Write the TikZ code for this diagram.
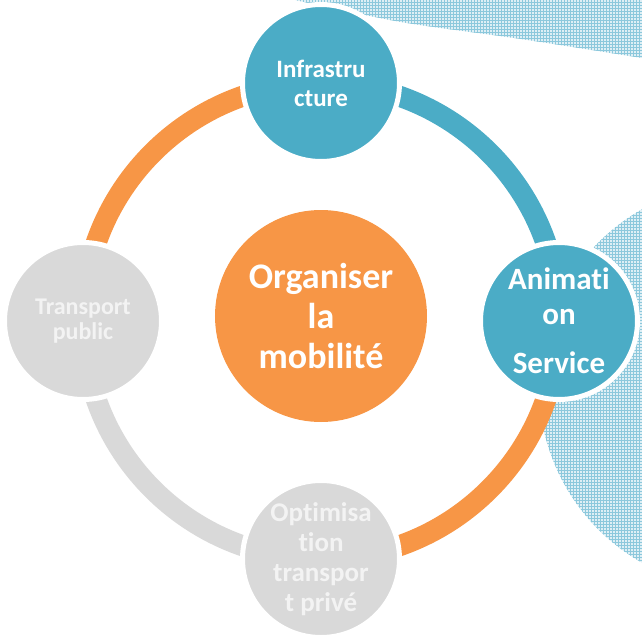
\documentclass[tikz,border=0pt]{standalone}
\usepackage{fontspec}
\setmainfont{Carlito}[Ligatures={NoCommon,NoContextual}]
\usepackage{tikz}
\usetikzlibrary{calc,positioning,patterns}
\definecolor{accblue}{RGB}{75,172,198}
\definecolor{accorange}{RGB}{247,150,70}
\definecolor{accgray}{RGB}{217,217,217}
\definecolor{palegray}{RGB}{243,243,243}
\definecolor{hatchbg}{RGB}{222,239,245}
\definecolor{hatchline}{RGB}{140,200,220}
\tikzstyle{hatch}   = [preaction={fill=hatchbg}, pattern=grid, pattern color=hatchline]
\tikzstyle{ringarc} = [line width=21pt]
\tikzstyle{hub}     = [circle, fill=accorange, minimum size=212pt, inner sep=0pt, text=white, align=center, font=\bfseries\fontsize{36}{40}\selectfont]
\tikzstyle{spoke}   = [circle, draw=white, line width=5pt, minimum size=157pt, inner sep=0pt, text=white, align=center]

\begin{document}
\begin{tikzpicture}[x=1pt,y=1pt]
        \useasboundingbox (-321,-314) rectangle (321,321);
        \clip (-321,-314) rectangle (321,321);

        \path[hatch] plot[smooth] coordinates {(-26,321) (80,299) (200,282) (321,263)} -- (330,261) -- (330,330) -- (-35,330) -- cycle;
        \path[hatch] (421,-65) circle[radius=203pt];

        \coordinate (p-top)    at (90:238);
        \coordinate (p-right)  at (0:238);
        \coordinate (p-bottom) at (-90:238);
        \coordinate (p-left)   at (180:238);

        \draw[ringarc, accorange] (p-left)   arc[start angle=180, end angle=90,   radius=238pt];
        \draw[ringarc, accblue]   (p-top)    arc[start angle=90,  end angle=0,    radius=238pt];
        \draw[ringarc, accorange] (p-right)  arc[start angle=0,   end angle=-90,  radius=238pt];
        \draw[ringarc, accgray]   (p-bottom) arc[start angle=-90, end angle=-180, radius=238pt];

        \node[hub] (mobilite) at (0,5) {Organiser\\la\\mobilité};

        \node[spoke, fill=accblue, font=\bfseries\fontsize{25}{29}\selectfont] (infra) at (p-top) {Infrastru\\cture};
        \node[spoke, fill=accblue, font=\bfseries\fontsize{31}{35}\selectfont] (anim) at (p-right) {Animati\\on\\[14pt]Service};
        \node[spoke, fill=accgray, text=palegray, font=\bfseries\fontsize{27}{30}\selectfont] (prive) at (p-bottom) {Optimisa\\tion\\transpor\\t privé};
        \node[spoke, fill=accgray, text=palegray, font=\bfseries\fontsize{24}{25}\selectfont] (public) at (p-left) {Transport\\public};
\end{tikzpicture}
\end{document}
